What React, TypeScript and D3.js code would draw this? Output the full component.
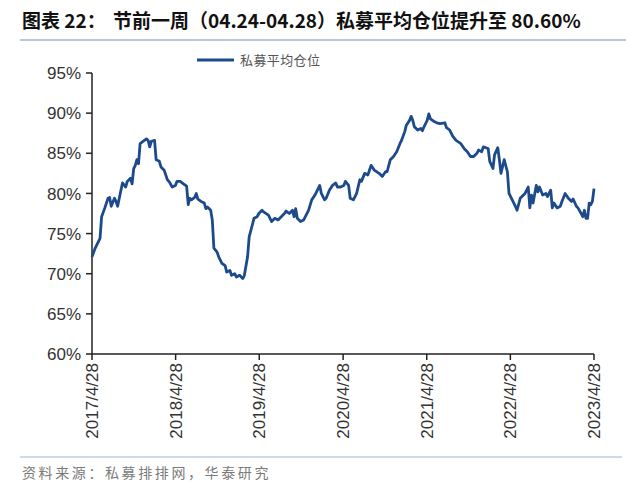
import * as d3 from "d3";
import React from "react";

// 私募平均仓位（周度，读图估计）
const dates = [
  "2017-04-28", "2017-05-12", "2017-06-02", "2017-06-09", "2017-06-23", "2017-07-07", "2017-07-14", "2017-07-21",
  "2017-08-04", "2017-08-11", "2017-08-18", "2017-08-25", "2017-09-08", "2017-09-22", "2017-09-29", "2017-10-13",
  "2017-10-20", "2017-10-27", "2017-11-03", "2017-11-10", "2017-11-17", "2017-11-24", "2017-12-08", "2017-12-22",
  "2017-12-29", "2018-01-05", "2018-01-12", "2018-01-26", "2018-02-02", "2018-02-16", "2018-02-23", "2018-03-09",
  "2018-03-23", "2018-03-30", "2018-04-13", "2018-04-27", "2018-05-04", "2018-05-18", "2018-06-01", "2018-06-15",
  "2018-06-22", "2018-06-29", "2018-07-06", "2018-07-20", "2018-07-27", "2018-08-03", "2018-08-17", "2018-08-31",
  "2018-09-07", "2018-09-14", "2018-09-28", "2018-10-05", "2018-10-12", "2018-10-26", "2018-11-02", "2018-11-16",
  "2018-11-30", "2018-12-07", "2018-12-21", "2018-12-28", "2019-01-11", "2019-01-18", "2019-02-01", "2019-02-15",
  "2019-02-22", "2019-03-08", "2019-03-15", "2019-03-29", "2019-04-05", "2019-04-19", "2019-04-26", "2019-05-10",
  "2019-05-17", "2019-06-07", "2019-06-21", "2019-07-05", "2019-07-19", "2019-08-02", "2019-08-16", "2019-08-23",
  "2019-09-06", "2019-09-20", "2019-09-27", "2019-10-04", "2019-10-11", "2019-10-25", "2019-11-08", "2019-11-29",
  "2019-12-13", "2019-12-27", "2020-01-03", "2020-01-17", "2020-01-24", "2020-02-07", "2020-02-14", "2020-02-28",
  "2020-03-13", "2020-03-27", "2020-04-03", "2020-04-17", "2020-05-01", "2020-05-08", "2020-05-22", "2020-05-29",
  "2020-06-12", "2020-06-26", "2020-07-10", "2020-07-17", "2020-07-31", "2020-08-14", "2020-08-28", "2020-09-11",
  "2020-10-02", "2020-10-16", "2020-10-30", "2020-11-06", "2020-11-20", "2020-12-04", "2020-12-18", "2021-01-01",
  "2021-01-08", "2021-01-22", "2021-01-29", "2021-02-12", "2021-02-19", "2021-02-26", "2021-03-05", "2021-03-19",
  "2021-04-02", "2021-04-09", "2021-04-16", "2021-04-30", "2021-05-07", "2021-05-14", "2021-05-28", "2021-06-11",
  "2021-06-25", "2021-07-16", "2021-07-23", "2021-08-06", "2021-08-20", "2021-09-03", "2021-09-24", "2021-10-08",
  "2021-10-22", "2021-11-05", "2021-11-19", "2021-12-03", "2021-12-10", "2021-12-24", "2021-12-31", "2022-01-21",
  "2022-01-28", "2022-02-11", "2022-02-18", "2022-03-04", "2022-03-11", "2022-03-18", "2022-04-01", "2022-04-15",
  "2022-04-22", "2022-05-06", "2022-05-20", "2022-05-27", "2022-06-10", "2022-06-24", "2022-07-01", "2022-07-15",
  "2022-07-22", "2022-07-29", "2022-08-05", "2022-08-19", "2022-08-26", "2022-09-02", "2022-09-16", "2022-09-30",
  "2022-10-07", "2022-10-21", "2022-10-28", "2022-11-04", "2022-11-18", "2022-12-02", "2022-12-09", "2022-12-23",
  "2023-01-06", "2023-01-20", "2023-01-27", "2023-02-10", "2023-02-17", "2023-03-03", "2023-03-10", "2023-03-17",
  "2023-03-24", "2023-03-31", "2023-04-07", "2023-04-14", "2023-04-21", "2023-04-28",
];

const positions = [
  72.1, 73.2, 74.4, 77.1, 78.2, 79.4, 79.5, 78.4,
  79.4, 79.0, 78.4, 79.4, 81.3, 80.8, 81.5, 81.9,
  81.2, 83.1, 83.5, 84.2, 83.7, 86.2, 86.5, 86.8,
  86.6, 85.8, 86.5, 86.6, 84.2, 84.0, 83.3, 82.9,
  81.7, 81.5, 80.8, 81.0, 81.5, 81.5, 81.2, 80.9,
  78.6, 79.4, 79.2, 79.5, 80.0, 79.3, 79.0, 78.8,
  78.1, 78.3, 77.9, 76.7, 73.2, 72.7, 72.1, 71.3,
  71.0, 70.2, 70.4, 69.8, 70.0, 69.6, 69.8, 69.4,
  69.8, 72.1, 74.6, 76.1, 76.9, 77.1, 77.5, 77.9,
  77.7, 77.3, 76.5, 76.9, 76.7, 77.1, 77.5, 77.8,
  77.5, 77.9, 77.1, 78.1, 76.9, 76.5, 76.7, 77.9,
  79.2, 79.8, 80.2, 81.0, 80.0, 79.2, 79.4, 80.4,
  81.0, 81.3, 80.8, 80.8, 81.0, 81.5, 81.0, 79.4,
  79.2, 80.0, 81.7, 81.5, 82.5, 82.3, 83.5, 82.9,
  82.5, 82.1, 82.7, 82.7, 84.2, 84.6, 85.2, 86.2,
  86.6, 87.7, 88.5, 89.1, 89.6, 89.1, 88.3, 87.9,
  88.1, 87.8, 88.3, 89.1, 89.9, 89.3, 89.0, 88.8,
  88.7, 88.8, 88.2, 87.9, 87.1, 86.6, 86.2, 85.6,
  85.2, 84.6, 84.6, 85.0, 85.4, 85.2, 85.8, 85.6,
  84.0, 83.1, 84.8, 85.7, 84.2, 82.5, 84.2, 82.7,
  80.0, 79.2, 78.4, 77.9, 79.4, 79.8, 80.0, 80.8,
  78.2, 79.8, 78.8, 81.0, 80.2, 80.8, 79.8, 80.0,
  79.6, 80.4, 78.2, 78.8, 78.2, 78.4, 79.0, 80.0,
  79.4, 79.0, 79.3, 78.4, 78.2, 77.5, 77.1, 77.9,
  76.9, 76.9, 78.8, 78.6, 79.0, 80.6,
];

const xTickLabels = ["2017/4/28", "2018/4/28", "2019/4/28", "2020/4/28", "2021/4/28", "2022/4/28", "2023/4/28"];
const yTicks = [60, 65, 70, 75, 80, 85, 90, 95];

const seriesName = "私募平均仓位";
const titleLabel = "图表 22：";
const titleText = "节前一周（04.24-04.28）私募平均仓位提升至 80.60%";
const sourceText = "资料来源：私募排排网，华泰研究";

const W = 640;
const H = 488;
const plot = { left: 92, right: 594, top: 73, bottom: 354 };
const LINE_COLOR = "#1c4a8a";
const SEP_COLOR = "#9fb5d2";
const LATIN = "'Liberation Sans', Arial, sans-serif";
const CJK = "'Noto Sans CJK SC', sans-serif";

const parse = d3.timeParse("%Y-%m-%d");
const parseTick = d3.timeParse("%Y/%m/%d");

export default function App() {
  const data = dates.map((d, i) => ({ date: parse(d)!, value: positions[i] }));
  const tickDates = xTickLabels.map((t) => parseTick(t)!);

  const x = d3
    .scaleTime()
    .domain([tickDates[0], tickDates[tickDates.length - 1]])
    .range([plot.left, plot.right]);
  const y = d3.scaleLinear().domain([60, 95]).range([plot.bottom, plot.top]);

  const line = d3
    .line<{ date: Date; value: number }>()
    .x((d) => x(d.date))
    .y((d) => y(d.value));

  return (
    <svg
      width={W}
      height={H}
      style={{ position: "absolute", left: 0, top: 0, background: "#fff" }}
    >
      {/* 标题 */}
      <text x={22} y={28} fontFamily={CJK} fontWeight="bold" fontSize={19} fill="#111">
        {titleLabel}
      </text>
      <text x={113} y={28} fontFamily={CJK} fontWeight="bold" fontSize={19} fill="#111">
        {titleText}
      </text>
      <line x1={20} x2={626} y1={40} y2={40} stroke={SEP_COLOR} strokeWidth={1.5} />

      {/* 图例 */}
      <line x1={197} x2={234} y1={60} y2={60} stroke={LINE_COLOR} strokeWidth={3} />
      <text x={240} y={65} fontFamily={CJK} fontSize={13} letterSpacing={0.4} fill="#555">
        {seriesName}
      </text>

      {/* y 轴 */}
      <line x1={plot.left} x2={plot.left} y1={plot.top} y2={plot.bottom} stroke="#222" strokeWidth={1.5} />
      {yTicks.map((t) => (
        <g key={t}>
          <line x1={plot.left - 6} x2={plot.left} y1={y(t)} y2={y(t)} stroke="#222" strokeWidth={1.5} />
          <text
            x={plot.left - 11}
            y={y(t)}
            dy="0.36em"
            textAnchor="end"
            fontFamily={LATIN}
            fontSize={17}
            fill="#333"
          >
            {t}%
          </text>
        </g>
      ))}

      {/* x 轴 */}
      <line x1={plot.left} x2={plot.right} y1={plot.bottom} y2={plot.bottom} stroke="#222" strokeWidth={1.5} />
      {tickDates.map((d, i) => (
        <g key={xTickLabels[i]} transform={`translate(${x(d)},${plot.bottom})`}>
          <line y1={0} y2={6} stroke="#222" strokeWidth={1.5} />
          <text
            transform="rotate(-90)"
            x={-9}
            dy="0.36em"
            textAnchor="end"
            fontFamily={LATIN}
            fontSize={17}
            fill="#333"
          >
            {xTickLabels[i]}
          </text>
        </g>
      ))}

      {/* 折线 */}
      <path d={line(data) ?? ""} fill="none" stroke={LINE_COLOR} strokeWidth={2.8} strokeLinejoin="round" />

      {/* 资料来源 */}
      <line x1={20} x2={622} y1={457} y2={457} stroke={SEP_COLOR} strokeWidth={1.2} />
      <text x={22} y={478} fontFamily={CJK} fontSize={14} letterSpacing={2.6} fill="#7a7a7a">
        {sourceText}
      </text>
    </svg>
  );
}
